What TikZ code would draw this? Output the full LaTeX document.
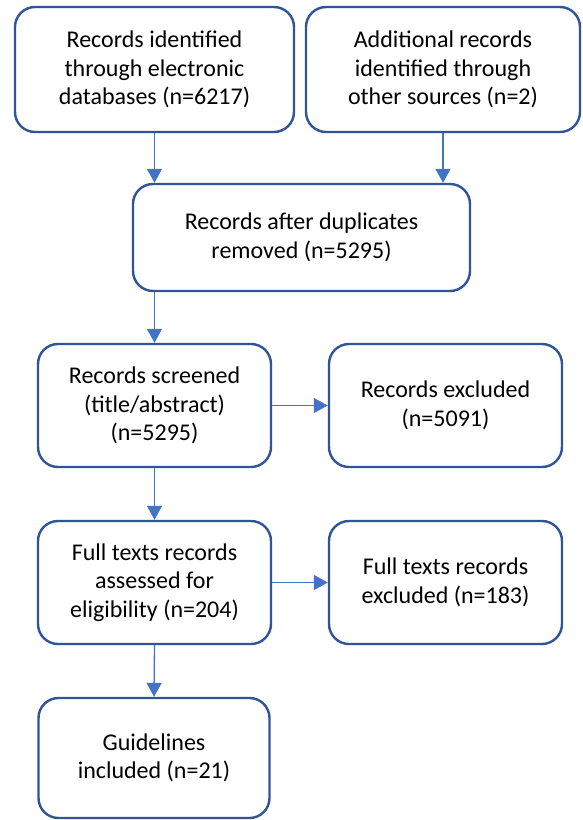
\documentclass[tikz,border=0pt]{standalone}
\usepackage{fontspec}
\setmainfont{Carlito}
\usepackage{xcolor}
\usepackage{tikz}
\usetikzlibrary{positioning, arrows.meta, shapes}

\definecolor{boxblue}{HTML}{2F5597}
\definecolor{arrowblue}{HTML}{4472C4}

\tikzset{
  stage/.style={draw=boxblue, line width=2.4pt, rounded corners=20pt,
    align=center, inner sep=0pt, fill=white,
    font=\fontsize{24}{28.5}\selectfont},
  flow/.style={draw=arrowblue, line width=1.3pt,
    -{Triangle[width=15pt, length=14pt]}}
}

\begin{document}
\begin{tikzpicture}[x=1pt, y=-1pt]
            \useasboundingbox (0,0) rectangle (582,820);
            % identification
            \node[stage, minimum width=279pt, minimum height=125pt] (records) at (154.5,69.5)
              {Records identified\\through electronic\\databases (n=6217)};
            \node[stage, minimum width=274pt, minimum height=125pt] (other) at (443,69.5)
              {Additional records\\identified through\\other sources (n=2)};
            \node[stage, minimum width=337pt, minimum height=107pt] (dupl) at (301.5,237.5)
              {Records after duplicates\\removed (n=5295)};
            % screening and eligibility
            \node[stage, minimum width=233pt, minimum height=123pt] (screen) at (154.5,405.5)
              {Records screened\\(title/abstract)\\(n=5295)};
            \node[stage, minimum width=233pt, minimum height=123pt] (excl) at (445.5,405.5)
              {Records excluded\\(n=5091)};
            \node[stage, minimum width=233pt, minimum height=123pt] (full) at (154.5,582.5)
              {Full texts records\\assessed for\\eligibility (n=204)};
            \node[stage, minimum width=233pt, minimum height=123pt] (fullexcl) at (445.5,582.5)
              {Full texts records\\excluded (n=183)};
            \node[stage, minimum width=231pt, minimum height=120pt] (incl) at (154,758)
              {Guidelines\\included (n=21)};
            
            \draw[flow] (records.south) -- (records.south |- dupl.north);
            \draw[flow] (other.south) -- (other.south |- dupl.north);
            \draw[flow] (dupl.south -| screen.north) -- (screen.north);
            \draw[flow] (screen.east) -- (excl.west);
            \draw[flow] (screen.south) -- (full.north);
            \draw[flow] (full.east) -- (fullexcl.west);
            \draw[flow] (full.south) -- (incl.north);
        \end{tikzpicture}
\end{document}
